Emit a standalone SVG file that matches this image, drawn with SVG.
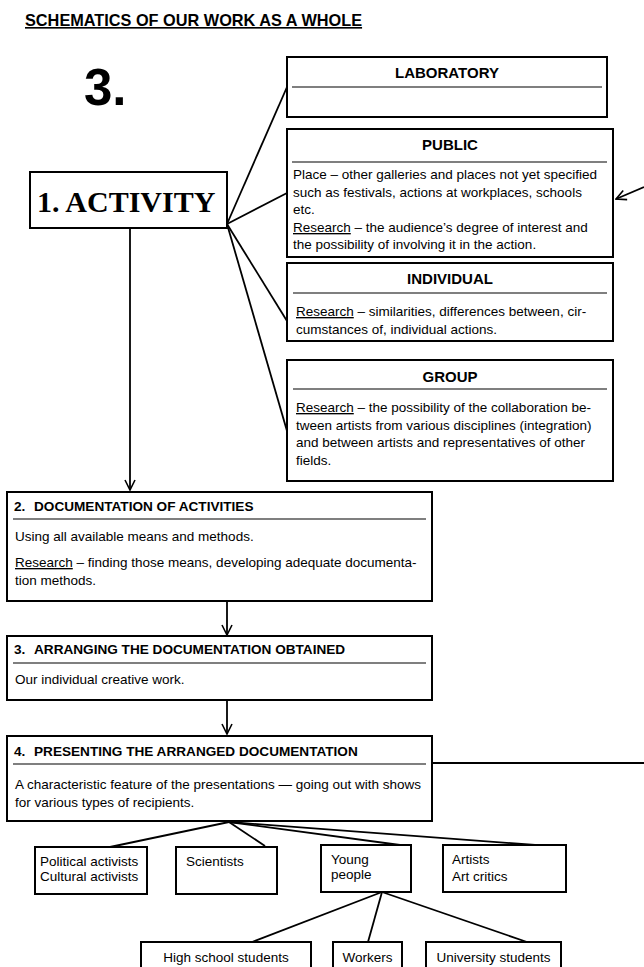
<svg xmlns="http://www.w3.org/2000/svg" width="644" height="967" viewBox="0 0 644 967">
<style>
.box{fill:#fff;stroke:#000;stroke-width:2}
.sep{stroke:#555;stroke-width:1.5}
.ln{stroke:#000;stroke-width:1.8;fill:none}
.t{font-family:"Liberation Sans",Arial,sans-serif;font-size:13.5px;fill:#000}
.h{font-family:"Liberation Sans",Arial,sans-serif;font-size:15px;font-weight:bold;fill:#000}
.hs{font-family:"Liberation Sans",Arial,sans-serif;font-size:13.6px;font-weight:bold;fill:#000}
.u{text-decoration:underline}
</style>
<defs>
<marker id="v" viewBox="0 0 12 12" refX="11" refY="6" markerWidth="12" markerHeight="12" markerUnits="userSpaceOnUse" orient="auto">
<path d="M1,1 L11,6 L1,11" fill="none" stroke="#000" stroke-width="1.6"/>
</marker>
</defs>
<g id="title">
<text x="25" y="26" font-family="Liberation Sans,Arial,sans-serif" font-size="16.3" font-weight="bold" text-decoration="underline">SCHEMATICS OF OUR WORK AS A WHOLE</text>
</g>
<g id="num3">
<text x="84" y="105" font-family="Liberation Sans,Arial,sans-serif" font-size="51" font-weight="bold">3.</text>
</g>
<g id="connectors">
<line class="ln" x1="227" y1="224" x2="287" y2="87"/>
<line class="ln" x1="227" y1="224" x2="287" y2="193"/>
<line class="ln" x1="227" y1="224" x2="287" y2="321"/>
<line class="ln" x1="227" y1="224" x2="287" y2="431"/>
<line class="ln" x1="130" y1="228" x2="130" y2="490" marker-end="url(#v)"/>
<line class="ln" x1="227" y1="601" x2="227" y2="635" marker-end="url(#v)"/>
<line class="ln" x1="227" y1="700" x2="227" y2="734" marker-end="url(#v)"/>
<line class="ln" x1="432" y1="763" x2="644" y2="763"/>
<line class="ln" x1="644" y1="187" x2="616" y2="199" marker-end="url(#v)"/>
<line class="ln" x1="229" y1="822" x2="110" y2="847"/>
<line class="ln" x1="229" y1="822" x2="265" y2="846"/>
<line class="ln" x1="229" y1="822" x2="400" y2="845"/>
<line class="ln" x1="229" y1="822" x2="535" y2="845"/>
<line class="ln" x1="382" y1="892" x2="252" y2="942"/>
<line class="ln" x1="382" y1="892" x2="368" y2="942"/>
<line class="ln" x1="382" y1="892" x2="527" y2="942"/>
</g>
<g id="activity">
<rect class="box" x="30" y="172" width="197" height="56"/>
<text x="37" y="212" font-family="Liberation Serif,'Times New Roman',serif" font-size="30" font-weight="bold">1. ACTIVITY</text>
</g>
<g id="laboratory">
<rect class="box" x="287" y="57" width="320" height="60"/>
<text class="h" x="447" y="78" text-anchor="middle">LABORATORY</text>
<line class="sep" x1="292" y1="87" x2="602" y2="87"/>
</g>
<g id="public">
<rect class="box" x="287" y="129" width="326" height="128"/>
<text class="h" x="450" y="150" text-anchor="middle">PUBLIC</text>
<line class="sep" x1="292" y1="162" x2="607" y2="162"/>
<text class="t" x="293" y="179">Place – other galleries and places not yet specified</text>
<text class="t" x="293" y="197">such as festivals, actions at workplaces, schools</text>
<text class="t" x="293" y="214">etc.</text>
<text class="t" x="293" y="232"><tspan class="u">Research</tspan> – the audience’s degree of interest and</text>
<text class="t" x="293" y="249">the possibility of involving it in the action.</text>
</g>
<g id="individual">
<rect class="box" x="287" y="263" width="326" height="78"/>
<text class="h" x="450" y="284" text-anchor="middle">INDIVIDUAL</text>
<line class="sep" x1="293" y1="293" x2="607" y2="293"/>
<text class="t" x="296" y="316"><tspan class="u">Research</tspan> – similarities, differences between, cir-</text>
<text class="t" x="296" y="334">cumstances of, individual actions.</text>
</g>
<g id="group">
<rect class="box" x="287" y="360" width="326" height="121"/>
<text class="h" x="450" y="382" text-anchor="middle">GROUP</text>
<line class="sep" x1="293" y1="389" x2="607" y2="389"/>
<text class="t" x="296" y="412"><tspan class="u">Research</tspan> – the possibility of the collaboration be-</text>
<text class="t" x="296" y="430">tween artists from various disciplines (integration)</text>
<text class="t" x="296" y="447">and between artists and representatives of other</text>
<text class="t" x="296" y="465">fields.</text>
</g>
<g id="doc2">
<rect class="box" x="7" y="492" width="425" height="109"/>
<text class="hs" x="14" y="511">2.<tspan x="34">DOCUMENTATION OF ACTIVITIES</tspan></text>
<line class="sep" x1="13" y1="519" x2="426" y2="519"/>
<text class="t" x="15" y="541">Using all available means and methods.</text>
<text class="t" x="15" y="567"><tspan class="u">Research</tspan> – finding those means, developing adequate documenta-</text>
<text class="t" x="15" y="585">tion methods.</text>
</g>
<g id="arrange3">
<rect class="box" x="7" y="636" width="425" height="64"/>
<text class="hs" x="14" y="654">3.<tspan x="34">ARRANGING THE DOCUMENTATION OBTAINED</tspan></text>
<line class="sep" x1="13" y1="663" x2="426" y2="663"/>
<text class="t" x="15" y="684">Our individual creative work.</text>
</g>
<g id="present4">
<rect class="box" x="7" y="736" width="425" height="85"/>
<text class="hs" x="14" y="756">4.<tspan x="34">PRESENTING THE ARRANGED DOCUMENTATION</tspan></text>
<line class="sep" x1="13" y1="764" x2="426" y2="764"/>
<text class="t" x="15" y="789">A characteristic feature of the presentations — going out with shows</text>
<text class="t" x="15" y="807">for various types of recipients.</text>
</g>
<g id="political">
<rect class="box" x="35" y="847" width="112" height="47"/>
<text class="t" x="40" y="866">Political activists</text>
<text class="t" x="40" y="881">Cultural activists</text>
</g>
<g id="scientists">
<rect class="box" x="176" y="847" width="101" height="47"/>
<text class="t" x="186" y="866">Scientists</text>
</g>
<g id="young">
<rect class="box" x="321" y="845" width="90" height="47"/>
<text class="t" x="331" y="864">Young</text>
<text class="t" x="331" y="879">people</text>
</g>
<g id="artists">
<rect class="box" x="443" y="845" width="123" height="47"/>
<text class="t" x="452" y="864">Artists</text>
<text class="t" x="452" y="881">Art critics</text>
</g>
<g id="highschool">
<rect class="box" x="141" y="942" width="170" height="40"/>
<text class="t" x="226" y="962" text-anchor="middle">High school students</text>
</g>
<g id="workers">
<rect class="box" x="333" y="942" width="69" height="40"/>
<text class="t" x="367.5" y="962" text-anchor="middle">Workers</text>
</g>
<g id="university">
<rect class="box" x="426" y="942" width="135" height="40"/>
<text class="t" x="493.5" y="962" text-anchor="middle">University students</text>
</g>
</svg>
